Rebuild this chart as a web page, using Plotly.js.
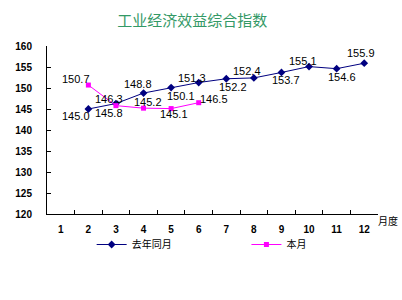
<!DOCTYPE html>
<html><head><meta charset="utf-8">
<script src="https://cdn.plot.ly/plotly-3.0.1.min.js"></script>
<style>html,body{margin:0;padding:0;background:#fff;}#c{width:402px;height:300px;}</style>
</head><body><div id="c"></div>
<script>
const months = ['1','2','3','4','5','6','7','8','9','10','11','12'];
const lastYearMonths = ['2','3','4','5','6','7','8','9','10','11','12'];
const lastYearValues = [145.0,146.3,148.8,150.1,151.3,152.2,152.4,153.7,155.1,154.6,155.9];
const thisMonthMonths = ['2','3','4','5','6'];
const thisMonthValues = [150.7,145.8,145.2,145.1,146.5];
const seriesNames = ['去年同月','本月'];
const titleText = '工业经济效益综合指数';
const xUnit = '月度';

// label offsets (style only): [dx, dy] in pixels, dy positive = down
const lastYearLabelOff = [[-12,7],[-7,-5],[-6,-9],[10,8],[-7,-5],[7,8],[-7,-7],[5,8],[-6,-6],[5,8],[-3,-10]];
const thisMonthLabelOff = [[-12,-6],[-7,7],[4,-6],[3,5],[15,-4]];

const labelFont = {family:'Liberation Sans, Arial, sans-serif', size:11, color:'#000'};
const annotations = [];
lastYearValues.forEach((v,i)=>{
  annotations.push({x:months.indexOf(lastYearMonths[i]), y:v, xref:'x', yref:'y', text:v.toFixed(1), showarrow:false,
    xshift:lastYearLabelOff[i][0], yshift:-lastYearLabelOff[i][1], font:labelFont});
});
thisMonthValues.forEach((v,i)=>{
  annotations.push({x:months.indexOf(thisMonthMonths[i]), y:v, xref:'x', yref:'y', text:v.toFixed(1), showarrow:false,
    xshift:thisMonthLabelOff[i][0], yshift:-thisMonthLabelOff[i][1], font:labelFont});
});
annotations.push({x:1, y:0, xref:'paper', yref:'paper', xanchor:'left', yanchor:'middle', xshift:-2, yshift:-6,
  text:xUnit, showarrow:false, font:{family:'Noto Sans CJK SC', size:10, color:'#000'}});

const traces = [
  {x:lastYearMonths, y:lastYearValues, name:seriesNames[0], type:'scatter', mode:'lines+markers', legend:'legend',
   line:{color:'#000080', width:1}, marker:{symbol:'diamond', size:6, color:'#000080'}},
  {x:thisMonthMonths, y:thisMonthValues, name:seriesNames[1], type:'scatter', mode:'lines+markers', legend:'legend2',
   line:{color:'#FF00FF', width:1}, marker:{symbol:'square', size:5, color:'#FF00FF'}}
];

const tickFont = {family:'Liberation Sans, Arial, sans-serif', size:10, color:'#000', weight:'bold'};
const legendFont = {family:'Noto Sans CJK SC', size:10, color:'#000'};
const layout = {
  width:402, height:300,
  margin:{l:47, r:24, t:46, b:86},
  paper_bgcolor:'#fff', plot_bgcolor:'#fff',
  title:{text:titleText, x:0.478, xref:'container', xanchor:'center', y:0.931, yref:'container', yanchor:'middle',
    font:{family:'Noto Sans CJK SC', size:15, color:'#339966'}},
  xaxis:{type:'category', categoryarray:months, categoryorder:'array', range:[-0.5,11.5],
    showline:true, linecolor:'#000', linewidth:1, ticks:'inside', ticklen:4, tickcolor:'#000',
    tickson:'boundaries', showgrid:false, zeroline:false, tickfont:tickFont, ticklabelstandoff:6, fixedrange:true},
  yaxis:{range:[120,160], dtick:5, tick0:120, showline:true, linecolor:'#000', linewidth:1,
    ticks:'inside', ticklen:4, tickcolor:'#000', showgrid:false, zeroline:false, tickfont:tickFont,
    ticklabelstandoff:12, fixedrange:true},
  showlegend:true,
  legend:{orientation:'h', x:0.228, xref:'container', xanchor:'left', y:0.185, yref:'container', yanchor:'middle',
    font:legendFont, bgcolor:'rgba(0,0,0,0)', borderwidth:0},
  legend2:{orientation:'h', x:0.613, xref:'container', xanchor:'left', y:0.185, yref:'container', yanchor:'middle',
    font:legendFont, bgcolor:'rgba(0,0,0,0)', borderwidth:0},
  annotations:annotations
};
Plotly.newPlot('c', traces, layout, {staticPlot:true, displayModeBar:false});
</script></body></html>
